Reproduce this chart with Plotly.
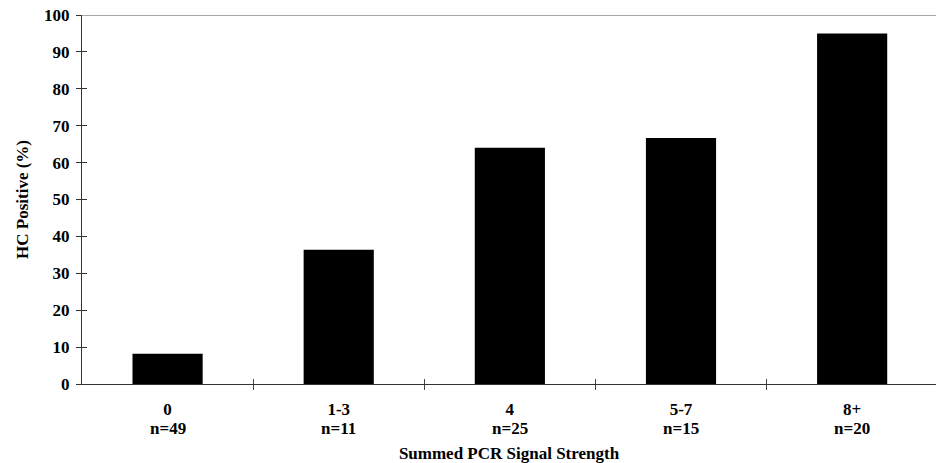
import plotly.graph_objects as go

categories = ["0", "1-3", "4", "5-7", "8+"]
counts = [49, 11, 25, 15, 20]
hc_positive = [8.2, 36.4, 64.0, 66.7, 95.0]
y_ticks = list(range(0, 101, 10))

positions = list(range(len(categories)))
boundaries = [p + 0.5 for p in positions[:-1]]
x_range = [-0.5, len(categories) - 0.51]

FAMILY = "Liberation Serif"
font = dict(family=FAMILY, size=17, color="black")

fig = go.Figure()
fig.add_trace(go.Bar(x=positions, y=hc_positive, width=0.41,
                     marker=dict(color="black", line=dict(width=0)),
                     showlegend=False, hoverinfo="x+y"))
fig.add_trace(go.Scatter(x=[positions[0]], y=[0], xaxis="x2", yaxis="y2",
                         mode="markers", marker=dict(opacity=0),
                         showlegend=False, hoverinfo="skip"))

annotations = [dict(x=p, y=0, xref="x", yref="paper", text=f"<b>n={n}</b>",
                    showarrow=False, yanchor="middle", yshift=-44,
                    font=font)
               for p, n in zip(positions, counts)]

fig.update_layout(
    width=936, height=463,
    margin=dict(l=82, r=0, t=15, b=79),
    plot_bgcolor="white", paper_bgcolor="white",
    font=font,
    xaxis=dict(range=x_range, tickmode="array", tickvals=positions,
               ticktext=[f"<b>{c}</b>" for c in categories], ticks="",
               ticklabelstandoff=10, automargin=False,
               showline=True, linecolor="#333", linewidth=1,
               showgrid=False, zeroline=False,
               minor=dict(tickmode="array", tickvals=boundaries, ticks="outside",
                          ticklen=5, tickcolor="#444", tickwidth=1),
               title=dict(text="<b>Summed PCR Signal Strength</b>", standoff=30,
                          font=font)),
    yaxis=dict(range=[0, 100], tickmode="array", tickvals=y_ticks,
               ticktext=[f"<b>{v}</b>" for v in y_ticks],
               ticks="outside", ticklen=5, tickcolor="#333",
               ticklabelstandoff=3, automargin=False,
               ticklabeloverflow="allow",
               showline=True, linecolor="#333", linewidth=1,
               showgrid=False, zeroline=False,
               title=dict(text="<b>HC Positive (%)</b>", standoff=11,
                          font=font)),
    xaxis2=dict(overlaying="x", anchor="y", side="bottom", range=x_range,
                tickmode="array", tickvals=boundaries, ticks="inside",
                ticklen=5, tickcolor="#444", showticklabels=False,
                showline=False, showgrid=False, zeroline=False),
    yaxis2=dict(overlaying="y", anchor="x", side="left", range=[0, 100],
                tickmode="array", tickvals=y_ticks, ticks="inside",
                ticklen=5, tickcolor="#333", showticklabels=False,
                showline=False, showgrid=False, zeroline=False),
    shapes=[dict(type="line", xref="paper", yref="y", x0=0, x1=1,
                 y0=y_ticks[-1], y1=y_ticks[-1],
                 line=dict(color="#888", width=1.5))],
    annotations=annotations,
)

fig.write_html("out.html", config={"displayModeBar": False},
               post_script="document.body.style.margin='0';")
